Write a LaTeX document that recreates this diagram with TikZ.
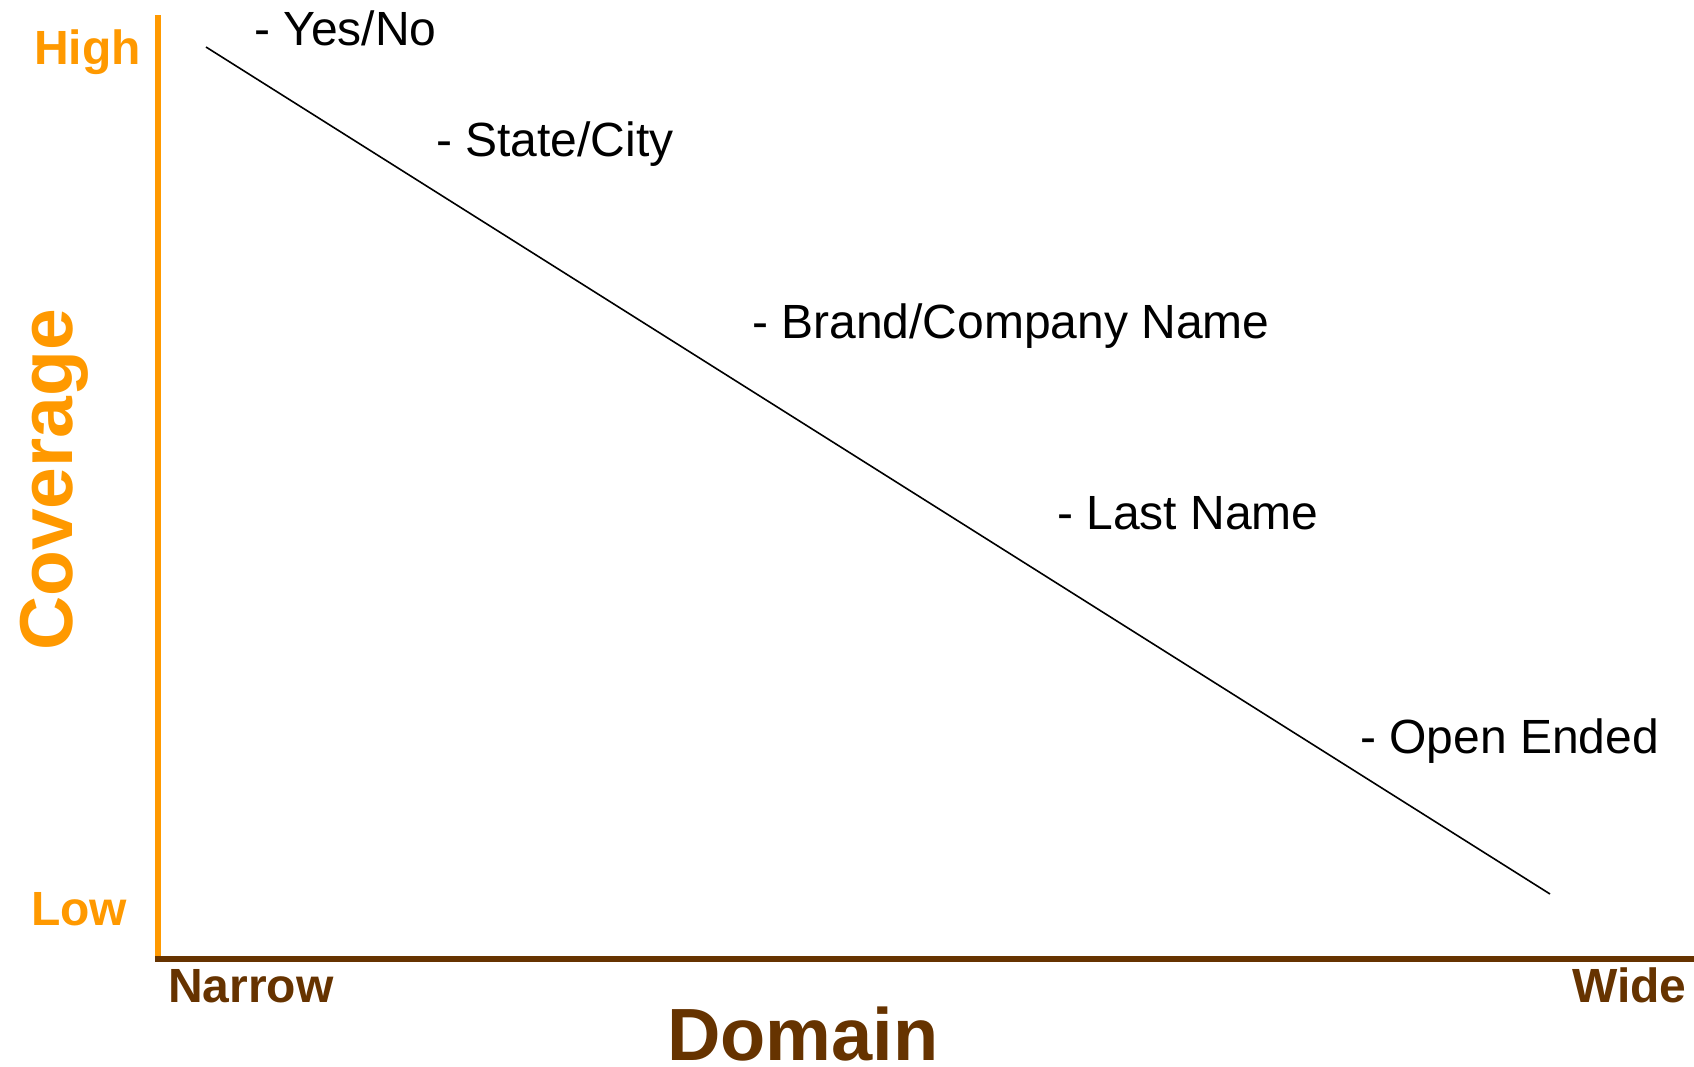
\documentclass[tikz,border=0pt]{standalone}
\usepackage{fontspec}
\setmainfont{Liberation Sans}
\definecolor{axisorange}{HTML}{FF9900}
\definecolor{axisbrown}{HTML}{663300}
\begin{document}
\begin{tikzpicture}[x=1pt,y=-1pt,
  lbl/.style={inner sep=0pt,anchor=base west,font=\fontsize{48}{58}\selectfont},
  ylab/.style={inner sep=0pt,anchor=base west,text=axisorange,font=\bfseries\fontsize{48}{58}\selectfont},
  xlab/.style={inner sep=0pt,anchor=base west,text=axisbrown,font=\bfseries\fontsize{48}{58}\selectfont}]
\useasboundingbox (0,0) rectangle (1694,1066);
% axes
\coordinate (ytop) at (158,15);
\coordinate (origin) at (158,959);
\coordinate (xend) at (1694,959);
\draw[axisorange,line width=6pt] (ytop) -- (158,956);
\draw[axisbrown,line width=6pt] (155,959) -- (xend);
% trend line
\coordinate (tstart) at (206,47);
\coordinate (tend) at (1550,894);
\draw[black,line width=1.6pt] (tstart) -- (tend);
% axis labels
\node[ylab] (high) at (34,64) {High};
\node[ylab] (low) at (31,925) {Low};
\node[xlab] (narrow) at (168,1002) {Narrow};
\node[xlab] (wide) at (1572,1002) {Wide};
\node[inner sep=0pt,anchor=base west,text=axisorange,rotate=90,
      font=\bfseries\fontsize{75}{90}\selectfont] (coverage) at (72,651) {Coverage};
\node[inner sep=0pt,anchor=base west,text=axisbrown,
      font=\bfseries\fontsize{74}{88}\selectfont] (domain) at (667,1060) {Domain};
% answer types
\node[lbl] (yesno) at (254,45) {- Yes/No};
\node[lbl] (state) at (436,156) {- State/City};
\node[lbl] (brand) at (752,338) {- Brand/Company Name};
\node[lbl] (last) at (1057,529) {- Last Name};
\node[lbl] (open) at (1360,753) {- Open Ended};
\end{tikzpicture}
\end{document}
